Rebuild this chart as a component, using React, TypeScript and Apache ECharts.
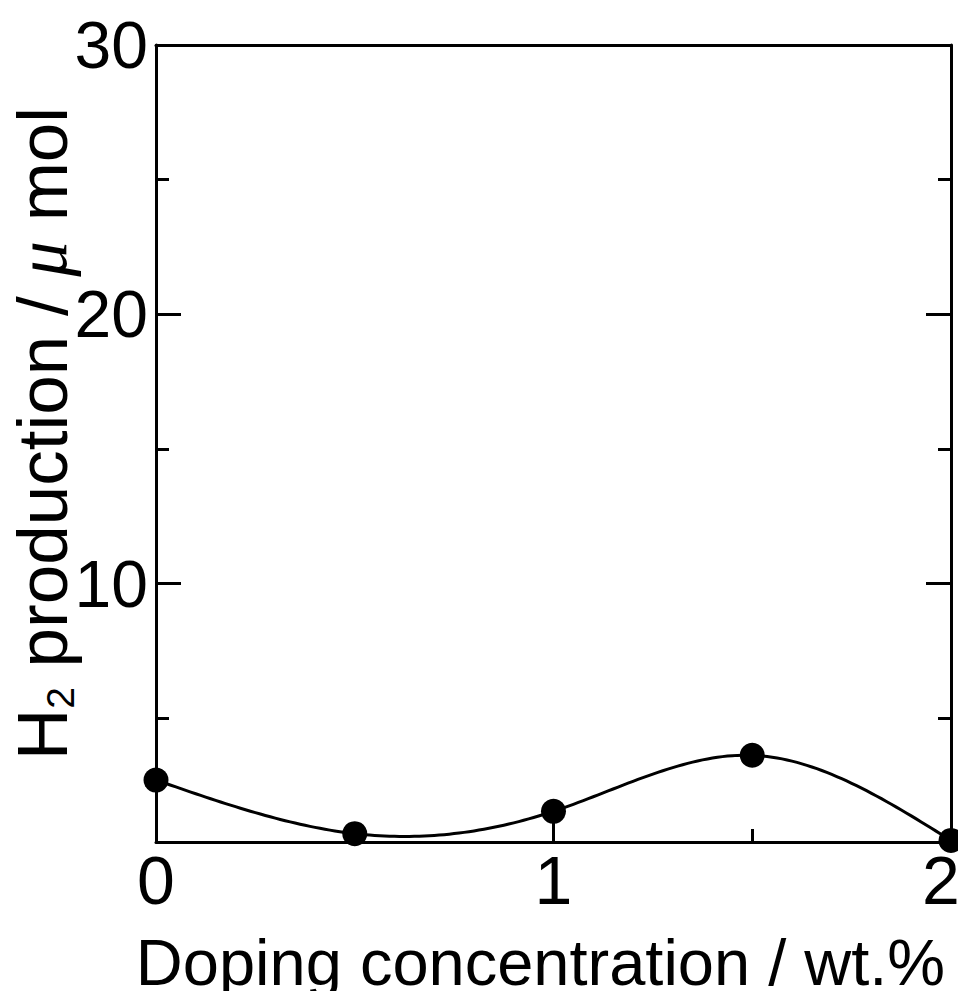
import React, { useEffect, useRef } from "react";
import * as echarts from "echarts";

// Doping concentration (wt.%) and measured H2 production (µmol)
const dopingWt = [0, 0.5, 1, 1.5, 2];
const h2Production = [2.7, 0.71, 1.54, 3.62, 0.46];

const xMajorTicks = [1];
const xMinorTicks = [0.5, 1.5];
const xTickLabels = [0, 1, 2];
const yMajorTicks = [10, 20];
const yMinorTicks = [5, 15, 25];
const yTickLabels = [10, 20, 30];

const FONT = "Liberation Sans";
const INK = "#000";

// Second derivatives of a natural cubic spline through (xs, ys)
function splineMoments(xs: number[], ys: number[]): number[] {
  const n = xs.length;
  const m = new Array(n).fill(0);
  if (n < 3) return m;
  const a: number[] = [], b: number[] = [], c: number[] = [], d: number[] = [];
  for (let i = 1; i < n - 1; i++) {
    const h0 = xs[i] - xs[i - 1];
    const h1 = xs[i + 1] - xs[i];
    a.push(h0);
    b.push(2 * (h0 + h1));
    c.push(h1);
    d.push(6 * ((ys[i + 1] - ys[i]) / h1 - (ys[i] - ys[i - 1]) / h0));
  }
  const k = b.length;
  for (let i = 1; i < k; i++) {
    const w = a[i] / b[i - 1];
    b[i] -= w * c[i - 1];
    d[i] -= w * d[i - 1];
  }
  const sol = new Array(k).fill(0);
  sol[k - 1] = d[k - 1] / b[k - 1];
  for (let i = k - 2; i >= 0; i--) sol[i] = (d[i] - c[i] * sol[i + 1]) / b[i];
  for (let i = 0; i < k; i++) m[i + 1] = sol[i];
  return m;
}

function splineAt(xs: number[], ys: number[], m: number[], i: number, x: number) {
  const h = xs[i + 1] - xs[i];
  const A = (xs[i + 1] - x) / h;
  const B = (x - xs[i]) / h;
  return (
    A * ys[i] +
    B * ys[i + 1] +
    ((A * A * A - A) * m[i] + (B * B * B - B) * m[i + 1]) * (h * h) / 6
  );
}

export default function App() {
  const ref = useRef<HTMLDivElement>(null);

  useEffect(() => {
    if (!ref.current) return;
    const chart = echarts.init(ref.current, null, { renderer: "svg" });

    const line = { show: true, onZero: false, lineStyle: { color: INK, width: 3 } };
    const noLine = { show: false, onZero: false };
    const baseY = {
      type: "value" as const,
      min: 0.4,
      max: 30,
      splitLine: { show: false },
    };
    const baseX = {
      type: "value" as const,
      min: 0,
      max: 2,
      splitLine: { show: false },
    };
    const tickStyle = { color: INK, width: 3 };
    const ticks = (values: number[], length: number) => ({
      show: true,
      inside: true,
      length,
      customValues: values,
      lineStyle: tickStyle,
    });

    const moments = splineMoments(dopingWt, h2Production);
    const maxX = xTickLabels[xTickLabels.length - 1];

    chart.setOption({
      animation: false,
      backgroundColor: "#fff",
      grid: {
        left: 156,
        right: 15,
        top: 45,
        bottom: 157,
        containLabel: false,
        outerBoundsMode: "none",
      },
      xAxis: [
        {
          ...baseX,
          position: "bottom",
          axisLine: line,
          name: "Doping concentration / wt.%",
          nameLocation: "middle",
          nameGap: 88,
          nameMoveOverlap: false,
          nameTextStyle: {
            fontFamily: FONT,
            fontSize: 65,
            color: INK,
            padding: [0, 26, 0, 0],
          },
          axisTick: ticks(xMajorTicks, 23),
          axisLabel: {
            show: true,
            customValues: xTickLabels,
            margin: 4,
            fontFamily: FONT,
            fontSize: 68,
            color: INK,
            showMinLabel: true,
            showMaxLabel: true,
            formatter: (v: any) =>
              Number(v) === maxX ? `{edge|${v}}` : `{std|${v}}`,
            rich: {
              std: { fontFamily: FONT, fontSize: 68, color: INK },
              edge: {
                fontFamily: FONT,
                fontSize: 68,
                color: INK,
                padding: [0, 20, 0, 0],
              },
            },
          },
        },
        {
          ...baseX,
          position: "bottom",
          axisLine: noLine,
          axisTick: ticks(xMinorTicks, 13),
          axisLabel: { show: false },
        },
        {
          ...baseX,
          position: "top",
          axisLine: line,
          axisTick: { show: false },
          axisLabel: { show: false },
        },
      ],
      yAxis: [
        {
          ...baseY,
          position: "left",
          axisLine: line,
          name: "{a|H}{s|2}{a| production / }{m|μ}{a| mol}",
          nameLocation: "middle",
          nameGap: 76,
          nameMoveOverlap: false,
          nameRotate: 90,
          nameTextStyle: {
            fontFamily: FONT,
            fontSize: 71,
            color: INK,
            padding: [0, 0, 0, 20],
            rich: {
              a: { fontFamily: FONT, fontSize: 71, color: INK, lineHeight: 76 },
              s: {
                fontFamily: FONT,
                fontSize: 39,
                color: INK,
                lineHeight: 30,
                verticalAlign: "bottom",
              },
              m: {
                fontFamily: "Liberation Serif",
                fontStyle: "italic",
                fontSize: 71,
                color: INK,
                lineHeight: 76,
              },
            },
          },
          axisTick: ticks(yMajorTicks, 25),
          axisLabel: {
            show: true,
            customValues: yTickLabels,
            margin: 8,
            fontFamily: FONT,
            fontSize: 66,
            color: INK,
            showMaxLabel: true,
          },
        },
        {
          ...baseY,
          position: "left",
          axisLine: noLine,
          axisTick: ticks(yMinorTicks, 13),
          axisLabel: { show: false },
        },
        {
          ...baseY,
          position: "right",
          axisLine: line,
          axisTick: ticks(yMajorTicks, 25),
          axisLabel: { show: false },
        },
        {
          ...baseY,
          position: "right",
          axisLine: noLine,
          axisTick: ticks(yMinorTicks, 13),
          axisLabel: { show: false },
        },
      ],
      series: [
        {
          // smooth spline through the measured points
          type: "custom",
          xAxisIndex: 0,
          yAxisIndex: 0,
          data: dopingWt.map((x, i) => [x, h2Production[i]]),
          encode: { x: 0, y: 1 },
          clip: false,
          z: 4,
          renderItem: (params: any, api: any) => {
            if (params.dataIndex !== 0) return { type: "group", children: [] };
            const pts: number[][] = [];
            const steps = 40;
            for (let i = 0; i < dopingWt.length - 1; i++) {
              for (let s = 0; s <= steps; s++) {
                if (i > 0 && s === 0) continue;
                const x = dopingWt[i] + ((dopingWt[i + 1] - dopingWt[i]) * s) / steps;
                const y = splineAt(dopingWt, h2Production, moments, i, x);
                pts.push(api.coord([x, y]));
              }
            }
            return {
              type: "polyline",
              shape: { points: pts },
              style: { stroke: INK, lineWidth: 3, fill: null },
            };
          },
        },
        {
          type: "scatter",
          xAxisIndex: 0,
          yAxisIndex: 0,
          data: dopingWt.map((x, i) => [x, h2Production[i]]),
          clip: false,
          symbol: "circle",
          symbolSize: 25,
          itemStyle: { color: INK, opacity: 1 },
          z: 5,
        },
      ],
    });

    return () => chart.dispose();
  }, []);

  return <div ref={ref} style={{ width: 966, height: 999, margin: -8 }} />;
}
